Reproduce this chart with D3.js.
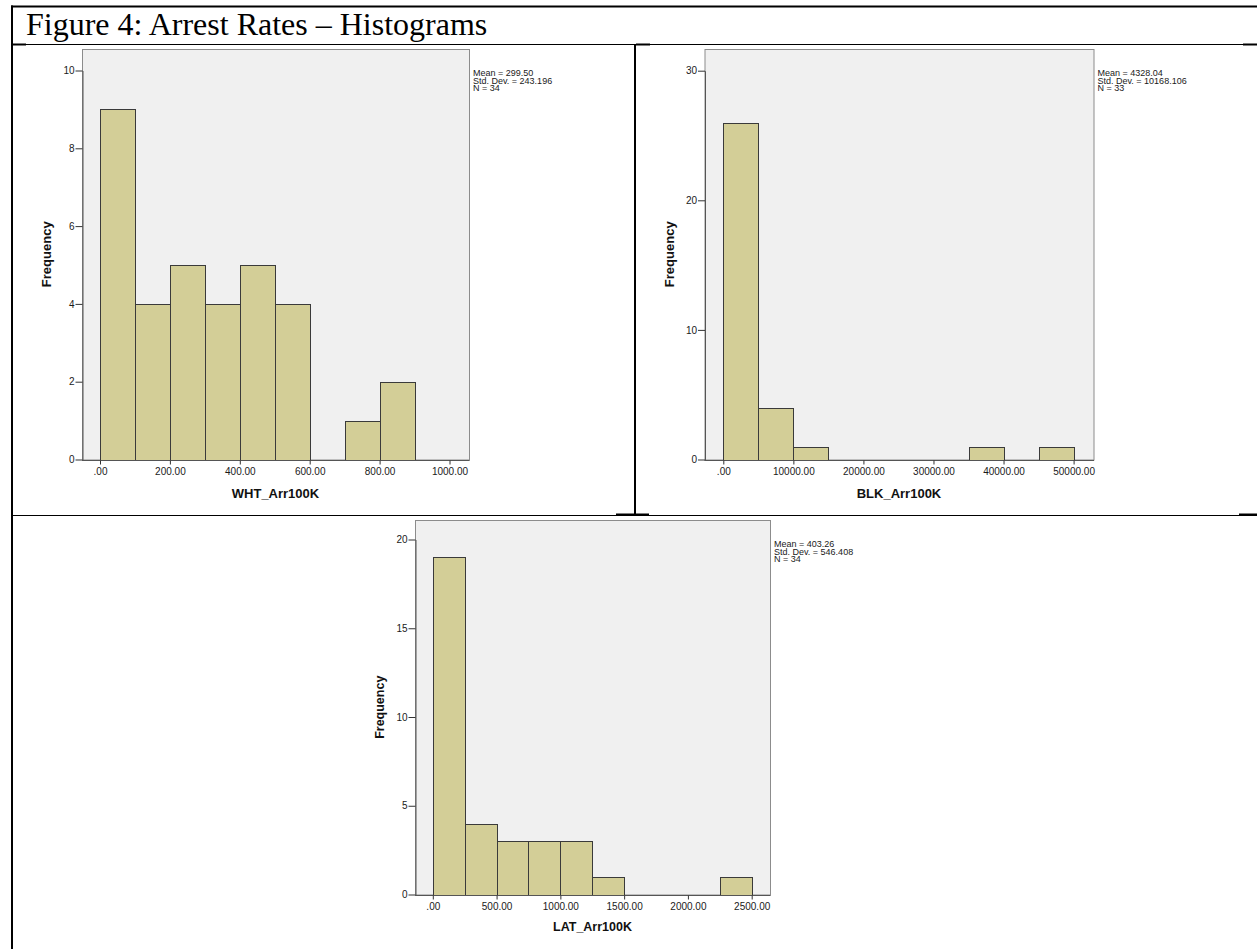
<!DOCTYPE html>
<html lang="en">
<head>
<meta charset="utf-8">
<script src="https://cdnjs.cloudflare.com/ajax/libs/d3/7.8.5/d3.min.js"></script>
<title>Figure 4: Arrest Rates – Histograms</title>
<style>
  body { margin: 0; background: #fff; }
  .tick text { font-family: "Liberation Sans", Arial, sans-serif; font-size: 10px; fill: #1a1a1a; }
  .tick line { stroke: #333; }
  .axis-title { font-family: "Liberation Sans", Arial, sans-serif; font-weight: bold; fill: #111; }
  .stats { font-family: "Liberation Sans", Arial, sans-serif; font-size: 9px; fill: #1a1a1a; }
</style>
</head>
<body>
<div id="figure"></div>

<script>
  // data
  const whtEdges  = [0, 100, 200, 300, 400, 500, 600, 700, 800, 900];
  const whtCounts = [9, 4, 5, 4, 5, 4, 0, 1, 2];
  const whtXTicks = [0, 200, 400, 600, 800, 1000];
  const whtYTicks = [0, 2, 4, 6, 8, 10];
  const whtStats  = ["Mean = 299.50", "Std. Dev. = 243.196", "N = 34"];

  const blkEdges  = [0, 5000, 10000, 15000, 20000, 25000, 30000, 35000, 40000, 45000, 50000];
  const blkCounts = [26, 4, 1, 0, 0, 0, 0, 1, 0, 1];
  const blkXTicks = [0, 10000, 20000, 30000, 40000, 50000];
  const blkYTicks = [0, 10, 20, 30];
  const blkStats  = ["Mean = 4328.04", "Std. Dev. = 10168.106", "N = 33"];

  const latEdges  = [0, 250, 500, 750, 1000, 1250, 1500, 1750, 2000, 2250, 2500];
  const latCounts = [19, 4, 3, 3, 3, 1, 0, 0, 0, 1];
  const latXTicks = [0, 500, 1000, 1500, 2000, 2500];
  const latYTicks = [0, 5, 10, 15, 20];
  const latStats  = ["Mean = 403.26", "Std. Dev. = 546.408", "N = 34"];

  const width = 1257, height = 949;
  const svg = d3.select("#figure").append("svg").attr("width", width).attr("height", height);

  // table borders of the document
  const border = svg.append("g").attr("stroke", "#000").attr("fill", "none");
  border.append("line").attr("x1", 11).attr("x2", width).attr("y1", 6.5).attr("y2", 6.5).attr("stroke-width", 2);
  border.append("line").attr("x1", 12).attr("x2", 12).attr("y1", 5.5).attr("y2", height).attr("stroke-width", 2);
  border.append("line").attr("x1", 12).attr("x2", width).attr("y1", 44.5).attr("y2", 44.5).attr("stroke-width", 1);
  border.append("line").attr("x1", 635).attr("x2", 635).attr("y1", 44).attr("y2", 515).attr("stroke-width", 2);
  border.append("line").attr("x1", 12).attr("x2", width).attr("y1", 515.5).attr("y2", 515.5).attr("stroke-width", 1);
  // little thicker joins where the cells meet
  [[13, 26, 44.5], [636, 650, 44.5], [1243, 1257, 44.5], [616, 649, 514.5], [1239, 1257, 514.5]].forEach(function(s){
    border.append("line").attr("x1", s[0]).attr("x2", s[1]).attr("y1", s[2]).attr("y2", s[2]).attr("stroke-width", 2);
  });

  svg.append("text")
    .attr("x", 26).attr("y", 35)
    .style("font-family", "'Liberation Serif', 'Times New Roman', serif")
    .style("font-size", "32px")
    .attr("fill", "#000")
    .text("Figure 4: Arrest Rates – Histograms");

  const fmt = function(v){ return v === 0 ? ".00" : d3.format(".2f")(v); };

  function histogram(p){
    const g = svg.append("g");
    const x = d3.scaleLinear().domain([p.xTicks[0], p.xTicks[p.xTicks.length - 1]]).range(p.xRange);
    const y = d3.scaleLinear().domain([p.yTicks[0], p.yTicks[p.yTicks.length - 1]]).range(p.yRange);
    const bottom = p.yRange[0];

    g.append("rect")
      .attr("x", p.frame[0] + 0.5).attr("y", p.frame[1] + 0.5)
      .attr("width", p.frame[2] - p.frame[0]).attr("height", bottom - p.frame[1])
      .attr("fill", "#f0f0f0").attr("stroke", "#8c8c8c");

    const bins = p.counts.map(function(c, i){ return {x0: p.edges[i], x1: p.edges[i + 1], n: c}; })
      .filter(function(b){ return b.n > 0; });

    g.selectAll(".bar")
      .data(bins)
      .enter()
      .append("rect")
      .attr("class", "bar")
      .attr("x", function(d){ return Math.round(x(d.x0)) + 0.5; })
      .attr("width", function(d){ return Math.round(x(d.x1)) - Math.round(x(d.x0)); })
      .attr("y", function(d){ return Math.round(y(d.n)) + 0.5; })
      .attr("height", function(d){ return Math.round(bottom) - Math.round(y(d.n)); })
      .attr("fill", "#d3ce97")
      .attr("stroke", "#3a3a3a");

    const yAxis = d3.axisLeft(y).tickValues(p.yTicks).tickSize(7).tickSizeOuter(0).tickPadding(1);
    g.append("g").attr("transform", "translate(" + (p.frame[0] + 0.5) + ",0)").call(yAxis)
      .select(".domain").attr("stroke", "#555");

    const xAxis = d3.axisBottom(x).tickValues(p.xTicks).tickFormat(fmt).tickSize(4).tickSizeOuter(0).tickPadding(3);
    const xg = g.append("g").attr("transform", "translate(0," + (Math.round(bottom) + 0.5) + ")").call(xAxis);
    xg.select(".domain").attr("d", "M" + p.frame[0] + ",0H" + (p.frame[2] + 0.5)).attr("stroke", "#555");

    const cx = (p.frame[0] + p.frame[2]) / 2;
    g.append("text").attr("class", "axis-title")
      .attr("x", cx).attr("y", bottom + p.titleGap)
      .attr("text-anchor", "middle").style("font-size", p.titleSize + "px")
      .text(p.label);

    const cy = (p.frame[1] + bottom) / 2;
    g.append("text").attr("class", "axis-title")
      .attr("transform", "translate(" + (p.frame[0] - 31) + "," + cy + ") rotate(-90)")
      .attr("text-anchor", "middle").style("font-size", p.titleSize + "px")
      .text("Frequency");

    g.selectAll(".stats")
      .data(p.stats)
      .enter()
      .append("text")
      .attr("class", "stats")
      .attr("x", p.frame[2] + 4)
      .attr("y", function(d, i){ return p.frame[1] + 27 + i * 7.5; })
      .text(function(d){ return d; });
  }

  histogram({
    edges: whtEdges, counts: whtCounts, xTicks: whtXTicks, yTicks: whtYTicks, stats: whtStats,
    label: "WHT_Arr100K", frame: [82, 49, 469], xRange: [100, 449.5], yRange: [459.5, 70.5],
    titleGap: 38, titleSize: 13
  });

  histogram({
    edges: blkEdges, counts: blkCounts, xTicks: blkXTicks, yTicks: blkYTicks, stats: blkStats,
    label: "BLK_Arr100K", frame: [704.5, 49, 1093.5], xRange: [723.3, 1073.6], yRange: [459.5, 70.7],
    titleGap: 38, titleSize: 13
  });

  histogram({
    edges: latEdges, counts: latCounts, xTicks: latXTicks, yTicks: latYTicks, stats: latStats,
    label: "LAT_Arr100K", frame: [415, 520, 770], xRange: [432.8, 751.7], yRange: [894.5, 539.5],
    titleGap: 36, titleSize: 12.5
  });
</script>
</body>
</html>
